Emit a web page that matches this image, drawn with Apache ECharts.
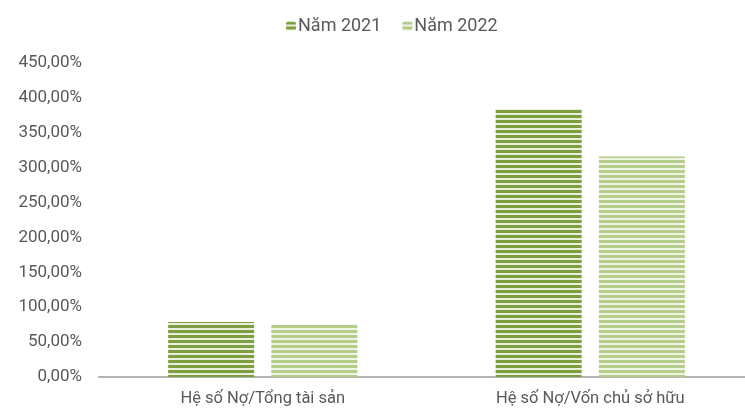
<!DOCTYPE html>
<html><head><meta charset="utf-8">
<script src="https://cdn.jsdelivr.net/npm/echarts@6/dist/echarts.min.js"></script>
<style>html,body{margin:0;padding:0;background:#fff}#c{width:745px;height:409px}</style>
</head><body><div id="c"></div>
<script>
const categories = ['Hệ số Nợ/Tổng tài sản', 'Hệ số Nợ/Vốn chủ sở hữu'];
const seriesNames = ['Năm 2021', 'Năm 2022'];
const values2021 = [79, 384];
const values2022 = [75, 316];

function stripe(dark, light) {
  const cv = document.createElement('canvas');
  cv.width = 4; cv.height = 5;
  const ctx = cv.getContext('2d');
  ctx.fillStyle = light; ctx.fillRect(0, 0, 4, 5);
  ctx.fillStyle = dark; ctx.fillRect(0, 0, 4, 3);
  return { image: cv, repeat: 'repeat' };
}
const c2021 = stripe('#7d9e41', '#eaf0dc');
const c2022 = stripe('#b4cd89', '#eff4e6');

const chart = echarts.init(document.getElementById('c'));
const fmt = v => v.toFixed(2).replace('.', ',') + '%';
chart.setOption({
  animation: false,
  textStyle: { fontFamily: 'Roboto' },
  legend: {
    top: 12, left: 281, itemWidth: 10, itemHeight: 9, itemGap: 21,
    textStyle: { fontSize: 18, color: '#595959', fontFamily: 'Roboto', padding: [0, 0, 0, -3] },
    data: seriesNames
  },
  grid: { left: 99, width: 655, top: 63, bottom: 32, outerBoundsMode: 'none', containLabel: false },
  xAxis: {
    type: 'category', data: categories,
    axisTick: { show: false },
    axisLine: { lineStyle: { color: '#b3b3b3', width: 2 } },
    axisLabel: { fontSize: 16.5, color: '#595959', margin: 13 }
  },
  yAxis: {
    type: 'value', min: 0, max: 450, interval: 50,
    splitLine: { show: false },
    axisLine: { show: false }, axisTick: { show: false },
    axisLabel: { formatter: fmt, fontSize: 17, color: '#595959', margin: 17 }
  },
  series: [
    { name: seriesNames[0], type: 'bar', data: values2021, barWidth: 86, barGap: '20%',
      itemStyle: { color: c2021 } },
    { name: seriesNames[1], type: 'bar', data: values2022, barWidth: 86,
      itemStyle: { color: c2022 } }
  ]
});
</script></body></html>
